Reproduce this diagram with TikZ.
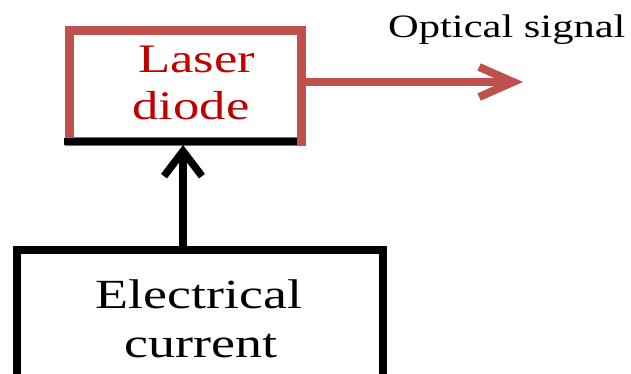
\documentclass[tikz,border=0pt]{standalone}
\usepackage{fontspec}
\usetikzlibrary{arrows.meta}
\newfontfamily\dfont[FakeStretch=1.3]{Liberation Serif}
\definecolor{boxred}{RGB}{192,80,77}
\definecolor{txtred}{RGB}{192,0,0}
\tikzset{
  blk/.style={draw=none, inner sep=0pt, anchor=base},
  conn/.style={line width=8pt},
}
\begin{document}
\begin{tikzpicture}[x=1pt,y=-1pt]
\useasboundingbox (0,0) rectangle (631,374);
% laser box
\node[draw=boxred, line width=9pt, minimum width=232pt, minimum height=111pt, inner sep=0pt, outer sep=0pt] (laser) at (185,86.5) {};
\draw[line width=7pt] ([xshift=-5pt]laser.south west) -- ([xshift=-4.5pt]laser.south east);
\node[blk, text=txtred, font=\dfont\fontsize{40.5}{48}\selectfont] (l1) at (196.5,73) {Laser};
\node[blk, text=txtred, font=\dfont\fontsize{40.5}{48}\selectfont] (l2) at (191,120) {diode};
% electrical box
\node[draw=black, line width=8.5pt, minimum width=366pt, minimum height=150pt, inner sep=0pt, outer sep=0pt, anchor=north] (elec) at (200,250) {};
\node[blk, font=\dfont\fontsize{41.5}{48}\selectfont] (e1) at (199,308) {Electrical};
\node[blk, font=\dfont\fontsize{41.5}{48}\selectfont] (e2) at (201,357) {current};
% optical label
\node[blk, anchor=base west, font=\dfont\fontsize{32.7}{40}\selectfont] (opt) at (388,38) {Optical signal};
\coordinate (optend) at (523,82);
% connectors
\draw[conn, -{Straight Barb[length=25pt,width=38pt,line width=7.5pt]}] (elec.north -| 183,0) -- ([yshift=-3pt]laser.south -| 183,0);
\draw[conn, draw=boxred, -{Straight Barb[length=34pt,width=30pt,line width=8pt]}] ([yshift=4.5pt]laser.east) -- (optend);
\end{tikzpicture}
\end{document}
